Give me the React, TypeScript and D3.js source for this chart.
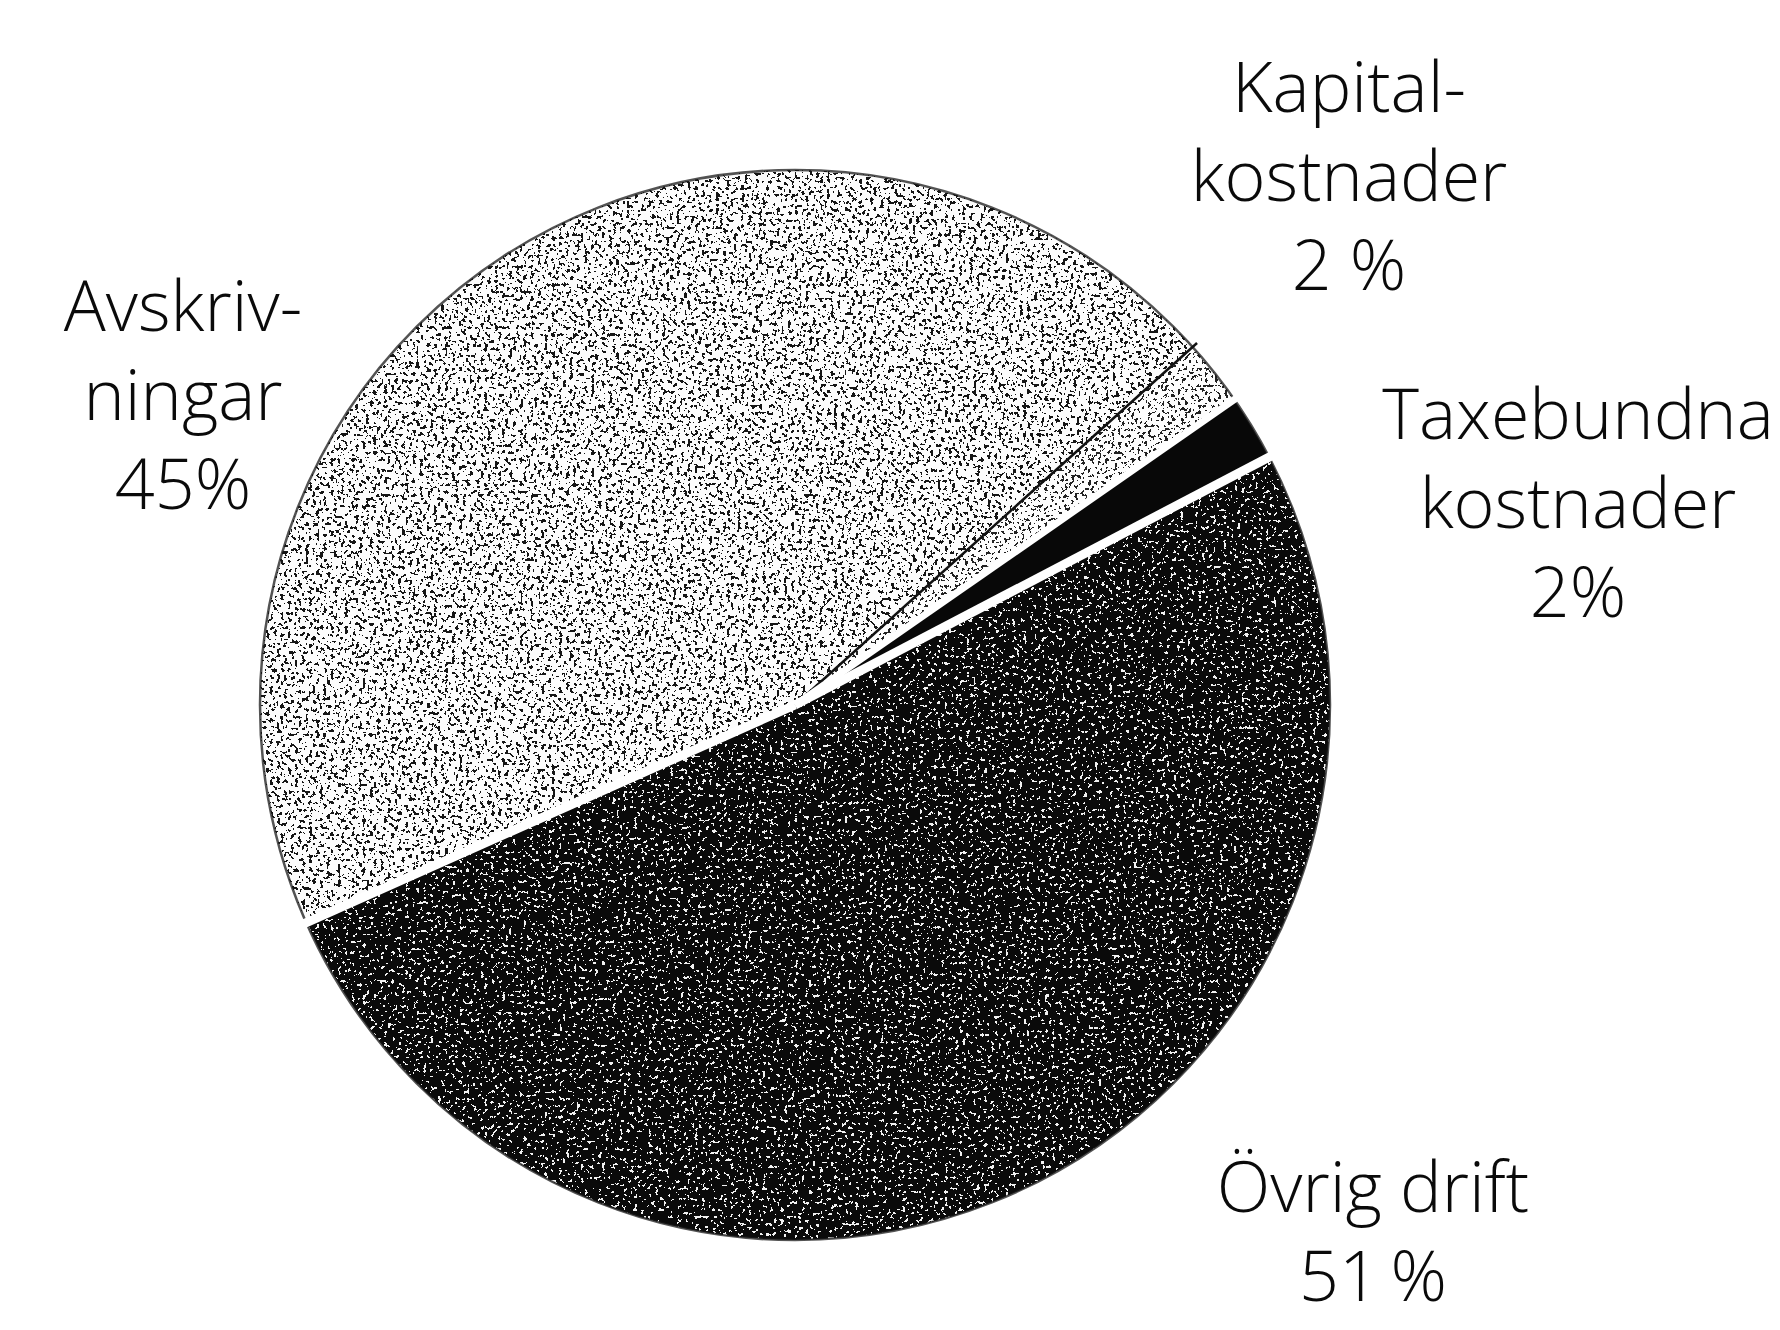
import React, { useEffect, useRef } from 'react';
import * as d3 from 'd3';

// Kostnadsfördelning
const categories = ['Avskrivningar', 'Kapitalkostnader', 'Taxebundna kostnader', 'Övrig drift'];
const shares = [45, 2, 2, 51];
const labelLines = [
  ['Avskriv-', 'ningar', '45%'],
  ['Kapital-', 'kostnader', '2 %'],
  ['Taxebundna', 'kostnader', '2%'],
  ['Övrig drift', '51\u2009%'],
];

const WIDTH = 1780;
const HEIGHT = 1330;

// where each label block sits (centre x, first baseline y)
const labelPos = [
  { x: 183, y: 331 },
  { x: 1349, y: 112 },
  { x: 1578, y: 439 },
  { x: 1373, y: 1212 },
];

const App: React.FC = () => {
  const svgRef = useRef<SVGSVGElement | null>(null);

  useEffect(() => {
    document.body.style.margin = '0';
    const svg = d3.select(svgRef.current);
    svg.selectAll('*').remove();

    const cx = 795;
    const cy = 705;
    const r = 535;

    const defs = svg.append('defs');

    // speckle texture: noise thresholded into dots, clipped to the shape
    const makeFilter = (id: string, ink: string, seed: number, freq: number, cut: number) => {
      const steps = 20;
      const table = d3.range(steps).map(i => (i >= cut ? 1 : 0)).join(' ');
      const f = defs.append('filter')
        .attr('id', id)
        .attr('x', 0).attr('y', 0).attr('width', 1).attr('height', 1)
        .attr('color-interpolation-filters', 'sRGB');
      f.append('feTurbulence')
        .attr('type', 'fractalNoise')
        .attr('baseFrequency', freq)
        .attr('numOctaves', 2)
        .attr('seed', seed)
        .attr('result', 'noise');
      f.append('feColorMatrix')
        .attr('in', 'noise')
        .attr('type', 'matrix')
        .attr('values', '0 0 0 0 0  0 0 0 0 0  0 0 0 0 0  1 0 0 0 0')
        .attr('result', 'r');
      f.append('feComponentTransfer')
        .attr('in', 'r')
        .attr('result', 'mask')
        .append('feFuncA')
        .attr('type', 'discrete')
        .attr('tableValues', table);
      f.append('feFlood').attr('flood-color', ink).attr('result', 'ink');
      f.append('feComposite').attr('in', 'ink').attr('in2', 'mask').attr('operator', 'in').attr('result', 'dots');
      f.append('feComposite').attr('in', 'dots').attr('in2', 'SourceAlpha').attr('operator', 'in').attr('result', 'clipped');
      const m = f.append('feMerge');
      m.append('feMergeNode').attr('in', 'SourceGraphic');
      m.append('feMergeNode').attr('in', 'clipped');
    };

    makeFilter('tex-light', '#151515', 3, 0.28, 12);
    makeFilter('tex-kap', '#222', 9, 0.3, 12);
    makeFilter('tex-dark', '#f2f2f2', 5, 0.28, 13);

    const fills = ['#fcfcfc', '#fdfdfd', '#080808', '#0a0a0a'];
    const filters = ['url(#tex-light)', 'url(#tex-kap)', null, 'url(#tex-dark)'];

    const start = (-114 * Math.PI) / 180;
    const pie = d3.pie<number>()
      .sort(null)
      .value(d => d)
      .startAngle(start)
      .endAngle(start + 2 * Math.PI);
    const arcs = pie(shares);

    const arc = d3.arc<d3.PieArcDatum<number>>()
      .innerRadius(0)
      .outerRadius(r);

    const g = svg.append('g').attr('transform', `translate(${cx},${cy})`);

    g.selectAll('path.slice')
      .data(arcs)
      .join('path')
      .attr('class', 'slice')
      .attr('d', arc)
      .attr('fill', (_, i) => fills[i])
      .attr('filter', (_, i) => filters[i]);

    // rim
    g.append('circle')
      .attr('r', r)
      .attr('fill', 'none')
      .attr('stroke', '#1a1a1a')
      .attr('stroke-width', 2.5)
      .attr('stroke-opacity', 0.75);

    // slice borders
    const edge = (a: number, rr: number) => [rr * Math.sin(a), -rr * Math.cos(a)];
    const borders = [
      { a: arcs[1].startAngle, color: '#111', w: 2.5 },
      { a: arcs[2].startAngle, color: '#fff', w: 7 },
      { a: arcs[3].startAngle, color: '#fff', w: 9 },
      { a: arcs[3].endAngle, color: '#fff', w: 9 },
    ];
    borders.forEach(b => {
      const [x2, y2] = edge(b.a, r + 6);
      g.append('line')
        .attr('x1', 0).attr('y1', 0)
        .attr('x2', x2).attr('y2', y2)
        .attr('stroke', b.color)
        .attr('stroke-width', b.w);
    });

    // labels
    const lineH = 89;
    labelLines.forEach((lines, i) => {
      const t = svg.append('text')
        .attr('text-anchor', 'middle')
        .attr('font-family', '"Open Sans", sans-serif')
        .attr('font-size', 70)
        .attr('font-weight', 300)
        .attr('fill', '#0a0a0a');
      t.append('title').text(categories[i]);
      lines.forEach((ln, j) => {
        t.append('tspan')
          .attr('x', labelPos[i].x)
          .attr('y', labelPos[i].y + j * lineH)
          .text(ln);
      });
    });
  }, []);

  return (
    <div style={{ position: 'absolute', left: 0, top: 0, width: WIDTH, height: HEIGHT, background: '#fff' }}>
      <svg ref={svgRef} width={WIDTH} height={HEIGHT} style={{ display: 'block' }} />
    </div>
  );
};

export default App;
